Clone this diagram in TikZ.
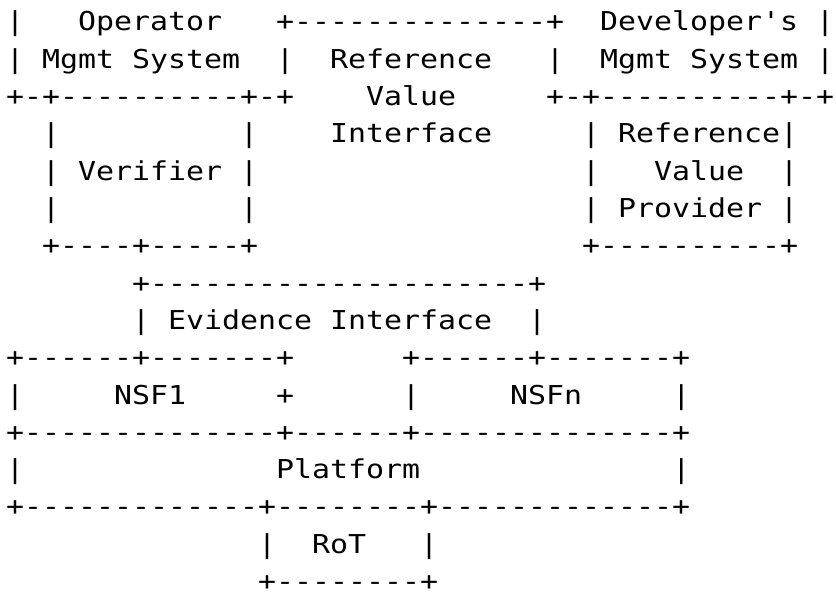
\documentclass[tikz,border=0pt]{standalone}
\usepackage{fontspec}
\setmonofont[FakeStretch=1.150]{DejaVu Sans Mono}
\newcommand\blank[1]{\setbox0\hbox{x}\hspace*{#1\wd0}}
\begin{document}
\begin{tikzpicture}[x=1bp,y=-1bp,
  ln/.style={anchor=base west, inner sep=0pt, text=black,
    font=\ttfamily\fontsize{26bp}{26bp}\selectfont}]
\fill[white] (0,0) rectangle (836,597);
\useasboundingbox (0,0) rectangle (836,597);
\node[ln] (l1)  at (6,31.0)  {|\blank{3}Operator\blank{3}+--------------+\blank{2}Developer's\blank{1}|};
\node[ln] (l2)  at (6,68.3)  {|\blank{1}Mgmt\blank{1}System\blank{2}|\blank{2}Reference\blank{3}|\blank{2}Mgmt\blank{1}System\blank{1}|};
\node[ln] (l3)  at (6,105.6) {+-+----------+-+\blank{4}Value\blank{5}+-+----------+-+};
\node[ln] (l4)  at (6,142.9) {\blank{2}|\blank{10}|\blank{4}Interface\blank{5}|\blank{1}Reference|};
\node[ln] (l5)  at (6,180.2) {\blank{2}|\blank{1}Verifier\blank{1}|\blank{18}|\blank{3}Value\blank{2}|};
\node[ln] (l6)  at (6,217.5) {\blank{2}|\blank{10}|\blank{18}|\blank{1}Provider\blank{1}|};
\node[ln] (l7)  at (6,254.8) {\blank{2}+----+-----+\blank{18}+----------+};
\node[ln] (l8)  at (6,292.1) {\blank{7}+---------------------+};
\node[ln] (l9)  at (6,329.4) {\blank{7}|\blank{1}Evidence\blank{1}Interface\blank{2}|};
\node[ln] (l10) at (6,366.7) {+------+-------+\blank{6}+------+-------+};
\node[ln] (l11) at (6,404.0) {|\blank{5}NSF1\blank{5}+\blank{6}|\blank{5}NSFn\blank{5}|};
\node[ln] (l12) at (6,441.3) {+--------------+------+--------------+};
\node[ln] (l13) at (6,478.6) {|\blank{14}Platform\blank{14}|};
\node[ln] (l14) at (6,515.9) {+-------------+--------+-------------+};
\node[ln] (l15) at (6,553.2) {\blank{14}|\blank{2}RoT\blank{3}|};
\node[ln] (l16) at (6,590.5) {\blank{14}+--------+};
\end{tikzpicture}
\end{document}
